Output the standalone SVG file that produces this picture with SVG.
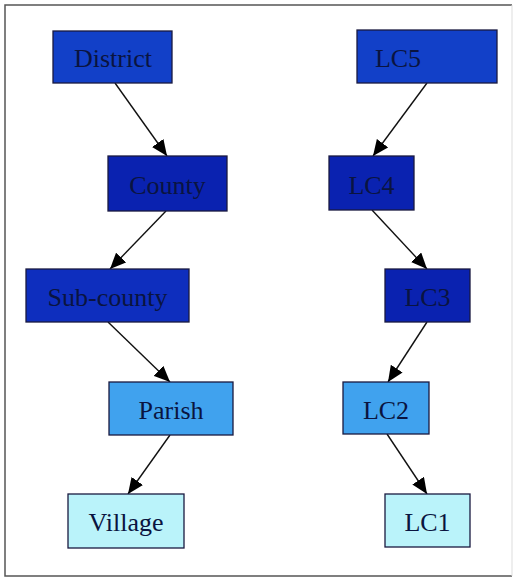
<svg xmlns="http://www.w3.org/2000/svg" width="515" height="578" viewBox="0 0 515 578">
<style>
.n{stroke:#1a1a40;stroke-width:1.3}
.l1{fill:#1240c8}
.l1b{fill:#0e2ebe}
.l2{fill:#0a22b0}
.l3{fill:#40a2ee}
.l4{fill:#baf3fa}
text{font-family:"Liberation Serif","Times New Roman",serif;font-size:26px;text-anchor:middle;dominant-baseline:central;fill:#0a1440}
.e{stroke:#111;stroke-width:1.4;fill:none;marker-end:url(#a)}
</style>
<defs>
<marker id="a" markerWidth="16" markerHeight="14" refX="16" refY="7" orient="auto" markerUnits="userSpaceOnUse" viewBox="0 0 16 14">
<path d="M0,0 L16,7 L0,14 z" fill="#000"/>
</marker>
</defs>
<rect x="0" y="0" width="515" height="578" fill="#fff"/>
<path d="M512,5 H5 V576 H512" fill="none" stroke="#555" stroke-width="1.5"/>
<path d="M512,5 V576" stroke="#ddd" stroke-width="1"/>
<g id="connectors">
<path class="e" d="M115,83 L167,156"/>
<path class="e" d="M166,211 L110,269"/>
<path class="e" d="M108,322 L170,382"/>
<path class="e" d="M170,435 L128,494"/>
<path class="e" d="M427,83 L373,156"/>
<path class="e" d="M372,210 L427,269"/>
<path class="e" d="M427,322 L388,382"/>
<path class="e" d="M387,434 L427,494"/>
</g>
<g id="district"><rect class="n l1" x="53" y="31" width="119" height="52"/><text x="113" y="58">District</text></g>
<g id="county"><rect class="n l2" x="108" y="156" width="119" height="55"/><text x="167.5" y="185">County</text></g>
<g id="subcounty"><rect class="n l1b" x="26" y="269" width="163" height="53"/><text x="107.5" y="297">Sub-county</text></g>
<g id="parish"><rect class="n l3" x="109" y="382" width="124" height="53"/><text x="171" y="410">Parish</text></g>
<g id="village"><rect class="n l4" x="68" y="494" width="116" height="54"/><text x="126" y="522">Village</text></g>
<g id="lc5"><rect class="n l1" x="357" y="30" width="140" height="53"/><text x="398" y="58">LC5</text></g>
<g id="lc4"><rect class="n l2" x="329" y="156" width="85" height="54"/><text x="371.5" y="185">LC4</text></g>
<g id="lc3"><rect class="n l2" x="385" y="269" width="85" height="53"/><text x="427.5" y="297">LC3</text></g>
<g id="lc2"><rect class="n l3" x="343" y="382" width="86" height="52"/><text x="386" y="410">LC2</text></g>
<g id="lc1"><rect class="n l4" x="385" y="494" width="85" height="53"/><text x="427.5" y="522">LC1</text></g>
</svg>
